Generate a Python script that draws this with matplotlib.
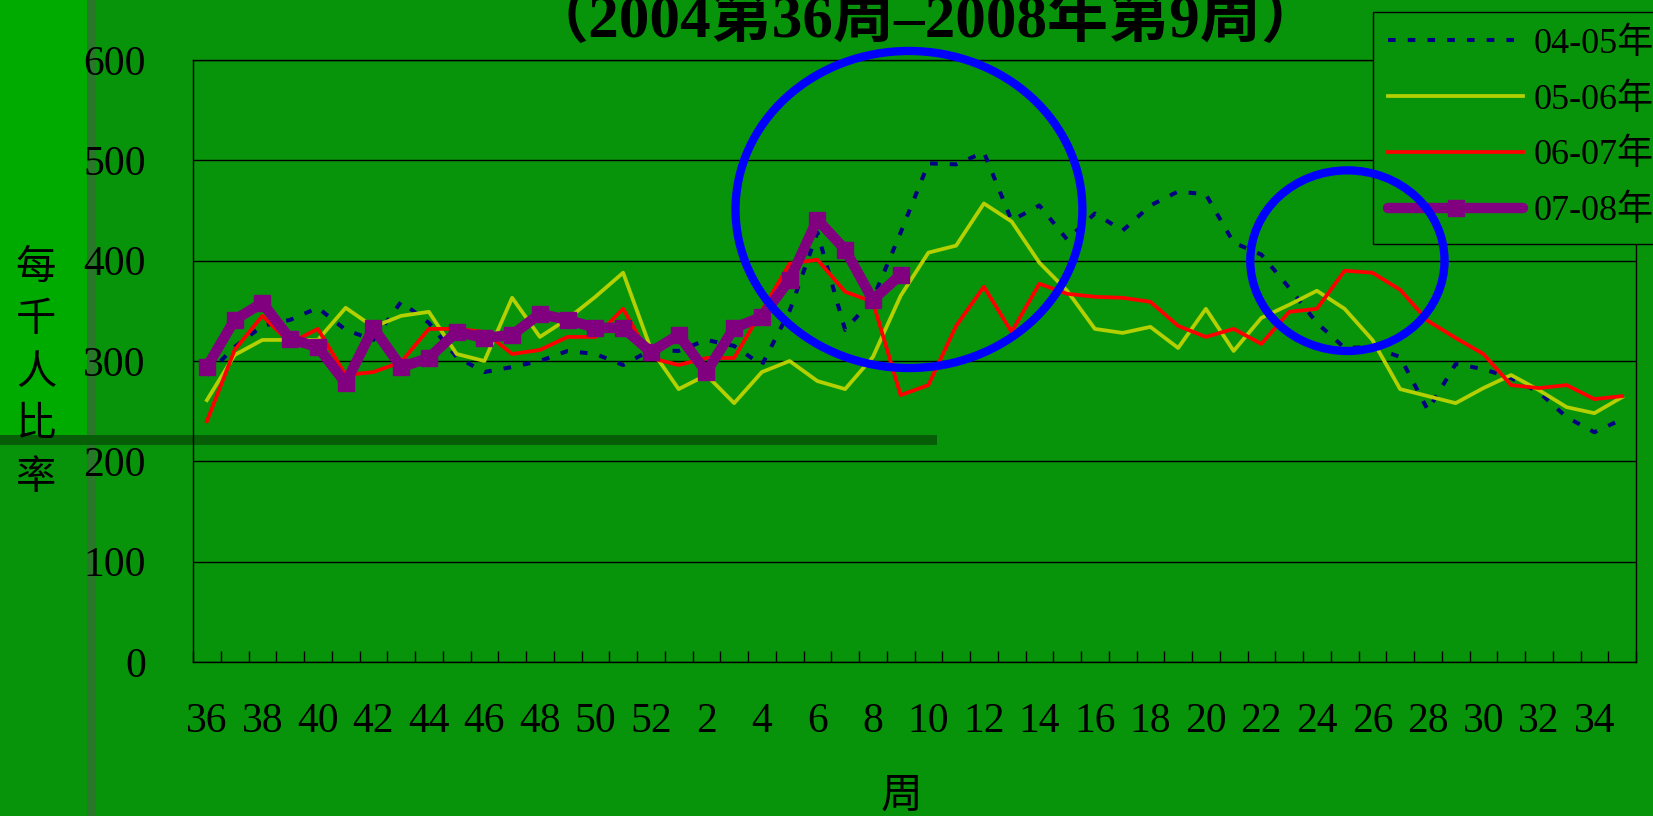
import matplotlib
matplotlib.use("Agg")
import matplotlib.pyplot as plt
from matplotlib.patches import Ellipse, Rectangle
import numpy as np

plt.rcParams["font.family"] = ["Liberation Serif", "Noto Sans CJK TC", "DejaVu Sans"]

# ---- data (weekly rate per 1000, week 36 -> week 35 of next year)
weeks = list(range(36, 53)) + list(range(1, 36))
tick_weeks = [w for w in weeks if w % 2 == 0]

rate_0405 = [286, 314, 335, 341, 353, 331, 321, 359, 338, 304, 289, 294, 300,
             310, 307, 296, 311, 310, 321, 315, 296, 350, 428, 331, 362, 428,
             497, 496, 508, 440, 455, 421, 447, 430, 455, 469, 466, 418, 406,
             373, 338, 313, 314, 304, 251, 297, 292, 283, 269, 244, 229, 242]
rate_0506 = [261, 306, 321, 321, 321, 353, 334, 345, 349, 307, 300, 363, 324,
             342, 364, 388, 312, 272, 286, 258, 289, 300, 280, 272, 304, 365,
             408, 415, 457, 439, 398, 370, 332, 328, 334, 313, 352, 310, 343,
             356, 370, 352, 321, 272, 265, 258, 273, 286, 271, 254, 248, 264]
rate_0607 = [240, 311, 345, 318, 332, 286, 289, 299, 332, 332, 329, 307, 311,
             324, 324, 352, 303, 296, 303, 303, 350, 397, 401, 369, 359, 266,
             276, 335, 374, 329, 377, 367, 364, 363, 359, 335, 324, 332, 317,
             349, 352, 390, 388, 371, 340, 323, 307, 276, 273, 276, 262, 265]
rate_0708 = [294, 341, 358, 322, 314, 278, 333, 294, 303, 329, 323, 326, 347,
             341, 333, 333, 309, 326, 289, 333, 344, 381, 441, 411, 361, 386]

series_labels = ["04-05年", "05-06年", "06-07年", "07-08年"]
title = "（2004第36周–2008年第9周）"
y_label = "每千人比率"
x_label = "周"

# ---- figure
W, H = 1653, 816
bg = "#08940a"
fig = plt.figure(figsize=(W / 100, H / 100), dpi=100, facecolor=bg)

# slide decoration
fig.patches.append(Rectangle((0, 1 - 435 / H), 87 / W, 435 / H, transform=fig.transFigure,
                             facecolor="#00ab00", edgecolor="none", zorder=-5))
fig.patches.append(Rectangle((87 / W, 0), 9 / W, 1, transform=fig.transFigure,
                             facecolor="#2a762a", edgecolor="none", zorder=-4))
fig.patches.append(Rectangle((0, 1 - 445 / H), 937 / W, 10 / H, transform=fig.transFigure,
                             facecolor="#065f06", edgecolor="none", zorder=-4))

ax = fig.add_axes([193 / W, (H - 662) / H, (1636 - 193) / W, (662 - 60) / H])
ax.set_facecolor("none")

x = np.arange(len(weeks))
ax.plot(x, rate_0405, color="#000080", lw=2.9, linestyle=(0, (1.9, 3.0)),
        dash_capstyle="butt", label=series_labels[0], zorder=3)
ax.plot(x, rate_0506, color="#b5d000", lw=2.7, label=series_labels[1], zorder=3)
ax.plot(x, rate_0607, color="#ff0000", lw=2.7, label=series_labels[2], zorder=3)
ax.plot(x[:len(rate_0708)], rate_0708, color="#800080", lw=7.5, marker="s", ms=11,
        solid_capstyle="round", label=series_labels[3], zorder=4)

ax.set_xlim(-0.5, len(weeks) - 0.5)
ax.set_ylim(0, 600)
ax.set_yticks(range(0, 601, 100))
ax.grid(axis="y", color="black", lw=1)
ax.set_axisbelow(True)
for s in ax.spines.values():
    s.set_color("black")
    s.set_linewidth(1)

ax.set_xticks([weeks.index(w) for w in tick_weeks])
ax.set_xticklabels([str(w) for w in tick_weeks])
ax.set_xticks(np.arange(-0.5, len(weeks), 1), minor=True)
ax.tick_params(axis="x", which="major", length=0, pad=29.5, labelsize=30)
ax.tick_params(axis="x", which="minor", direction="in", length=8, width=1, color="black")
ax.tick_params(axis="y", direction="in", length=0, pad=34, labelsize=30)

# highlight circles
ax.add_patch(Ellipse((25.3, 451), 12.5, 316, fill=False, edgecolor="#0000ff",
                     lw=6, clip_on=False, zorder=6))
ax.add_patch(Ellipse((41.1, 400), 7.0, 180, fill=False, edgecolor="#0000ff",
                     lw=6, clip_on=False, zorder=6))

leg = ax.legend(loc="upper left", bbox_to_anchor=(1373 / W, 1 - 12 / H),
                bbox_transform=fig.transFigure, borderaxespad=0, fontsize=26,
                handlelength=3.74, handletextpad=0.3, borderpad=0.42,
                labelspacing=0.62, fancybox=False, framealpha=1,
                facecolor=bg, edgecolor="black")
leg.get_frame().set_linewidth(1)
leg.set_zorder(5)

# texts
fig.text(925 / W, 1 - 37 / H, title, ha="center", va="baseline",
         fontsize=44, fontweight="bold")
for k, ch in enumerate(y_label):
    fig.text(36 / W, 1 - (267 + 52.5 * k) / H, ch, ha="center", va="center",
             fontsize=29, family="Noto Sans CJK TC")
fig.text(901 / W, 1 - 796 / H, x_label, ha="center", va="center",
         fontsize=30, family="Noto Sans CJK TC")

fig.savefig("out.png", dpi=100, facecolor=bg)
